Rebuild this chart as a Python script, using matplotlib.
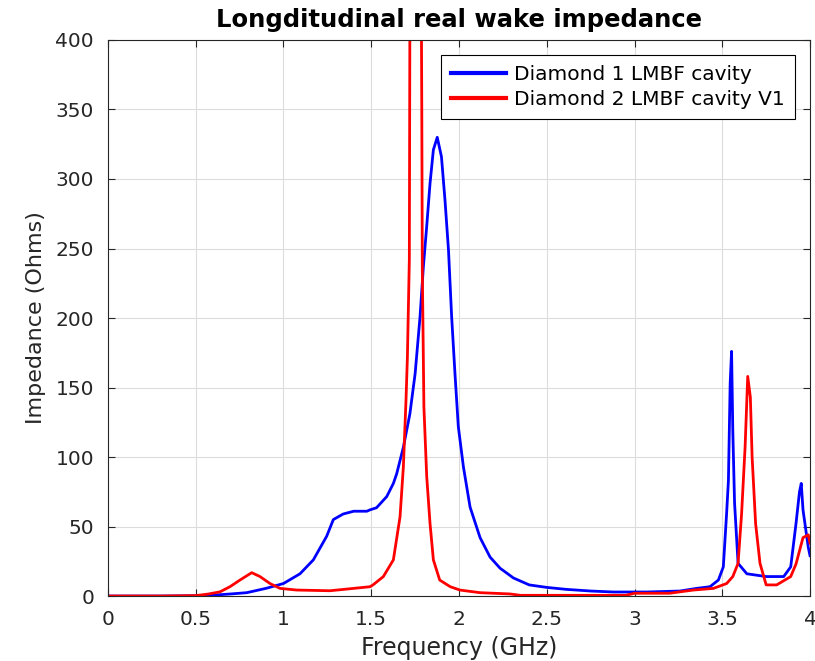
import numpy as np
import matplotlib
matplotlib.use('Agg')
import matplotlib.pyplot as plt

# Diamond 1 LMBF cavity (blue), frequency in GHz, impedance in Ohms
freq_d1 = [0.0, 0.3, 0.5, 0.56, 0.62, 0.7, 0.79, 0.9, 1.0, 1.094, 1.17, 1.246, 1.284,
           1.34, 1.40, 1.475, 1.493, 1.53, 1.588, 1.626, 1.645, 1.683, 1.72, 1.75,
           1.778, 1.797, 1.816, 1.835, 1.854, 1.876, 1.90, 1.92, 1.94, 1.958, 1.977,
           1.996, 2.025, 2.063, 2.12, 2.177, 2.234, 2.31, 2.40, 2.50, 2.61, 2.75, 2.88,
           3.07, 3.26, 3.354, 3.43, 3.478, 3.506, 3.525, 3.535, 3.545, 3.553, 3.56,
           3.57, 3.59, 3.64, 3.75, 3.85, 3.89, 3.92, 3.94, 3.95, 3.96, 3.99, 4.0]
z_d1 = [0.0, 0.0, 0.2, 0.5, 0.8, 1.5, 2.4, 5.5, 9, 16, 26, 43, 55,
        59, 61, 61, 62, 63.5, 71.5, 81, 88, 107, 131, 160,
        201, 237, 266, 297, 321, 330, 316, 285, 249, 201, 160,
        122, 93, 64, 42, 28, 20, 13, 8, 6.2, 4.8, 3.6, 2.9,
        2.9, 3.6, 5.5, 6.7, 11.5, 21, 60, 83, 153, 176, 119,
        67, 23.5, 16, 14, 14, 21, 52, 75, 81, 62, 35, 29]

# Diamond 2 LMBF cavity V1 (red)
freq_d2 = [0.0, 0.3, 0.5, 0.57, 0.638, 0.695, 0.752, 0.819, 0.866, 0.923, 0.98,
           1.075, 1.265, 1.40, 1.493, 1.51, 1.569, 1.626, 1.664, 1.683, 1.698, 1.706,
           1.717, 1.722, 1.735, 1.75, 1.765, 1.782, 1.788, 1.791, 1.80, 1.816, 1.835,
           1.854, 1.89, 1.95, 2.005, 2.12, 2.29, 2.35, 2.6, 2.95, 3.0, 3.2, 3.335,
           3.45, 3.525, 3.56, 3.59, 3.61, 3.63, 3.645, 3.66, 3.67, 3.69, 3.715, 3.75,
           3.81, 3.89, 3.92, 3.96, 3.99, 4.0]
z_d2 = [0.0, 0.0, 0.3, 1.4, 3, 6.7, 11.5, 16.8, 14, 9, 5.5,
        4.3, 3.8, 5.5, 6.7, 8, 14, 26, 57, 93, 141, 172,
        242, 520, 1100, 1500, 1100, 520, 347, 234, 136, 86, 52,
        26, 11.5, 6.7, 4.3, 2.4, 1.5, 0.5, 0.5, 0.5, 2, 2, 4.3,
        5.5, 9, 14, 23.5, 59, 107, 158, 143, 100, 52, 23.5, 8,
        8, 14, 23, 42, 44, 38]

fig = plt.figure(figsize=(8.15, 6.61), dpi=100)
ax = fig.add_axes([0.1325, 0.0983, 0.8614, 0.8412])

ax.plot(freq_d1, z_d1, color='#0000ff', lw=2, label='Diamond 1 LMBF cavity')
ax.plot(freq_d2, z_d2, color='#ff0000', lw=2, label='Diamond 2 LMBF cavity V1')

ax.set_xlim(0, 4)
ax.set_ylim(0, 400)
ax.set_xticks(np.arange(0, 4.01, 0.5))
ax.set_xticklabels(['0', '0.5', '1', '1.5', '2', '2.5', '3', '3.5', '4'])
ax.set_yticks(np.arange(0, 401, 50))

ax.grid(True, color='#dcdcdc', lw=0.8)
ax.set_axisbelow(True)
for s in ax.spines.values():
    s.set_color('#262626')
    s.set_linewidth(0.8)
ax.tick_params(direction='in', length=5, top=True, right=True, labelsize=14.5,
               colors='#262626', labelcolor='#262626', pad=10)

ax.set_xlabel('Frequency (GHz)', fontsize=17, color='#262626', labelpad=5)
ax.set_ylabel('Impedance (Ohms)', fontsize=16, color='#262626', labelpad=7)
ax.set_title('Longditudinal real wake impedance', fontsize=17.5, fontweight='bold', pad=9)

leg = ax.legend(loc='upper right', fontsize=14.5, fancybox=False, framealpha=1,
                edgecolor='black', handlelength=2.75, handletextpad=0.4,
                borderaxespad=0.75, borderpad=0.5, labelspacing=0.3)
leg.get_frame().set_linewidth(0.8)
for line in leg.get_lines():
    line.set_linewidth(3)

fig.savefig('out.png', dpi=100)
